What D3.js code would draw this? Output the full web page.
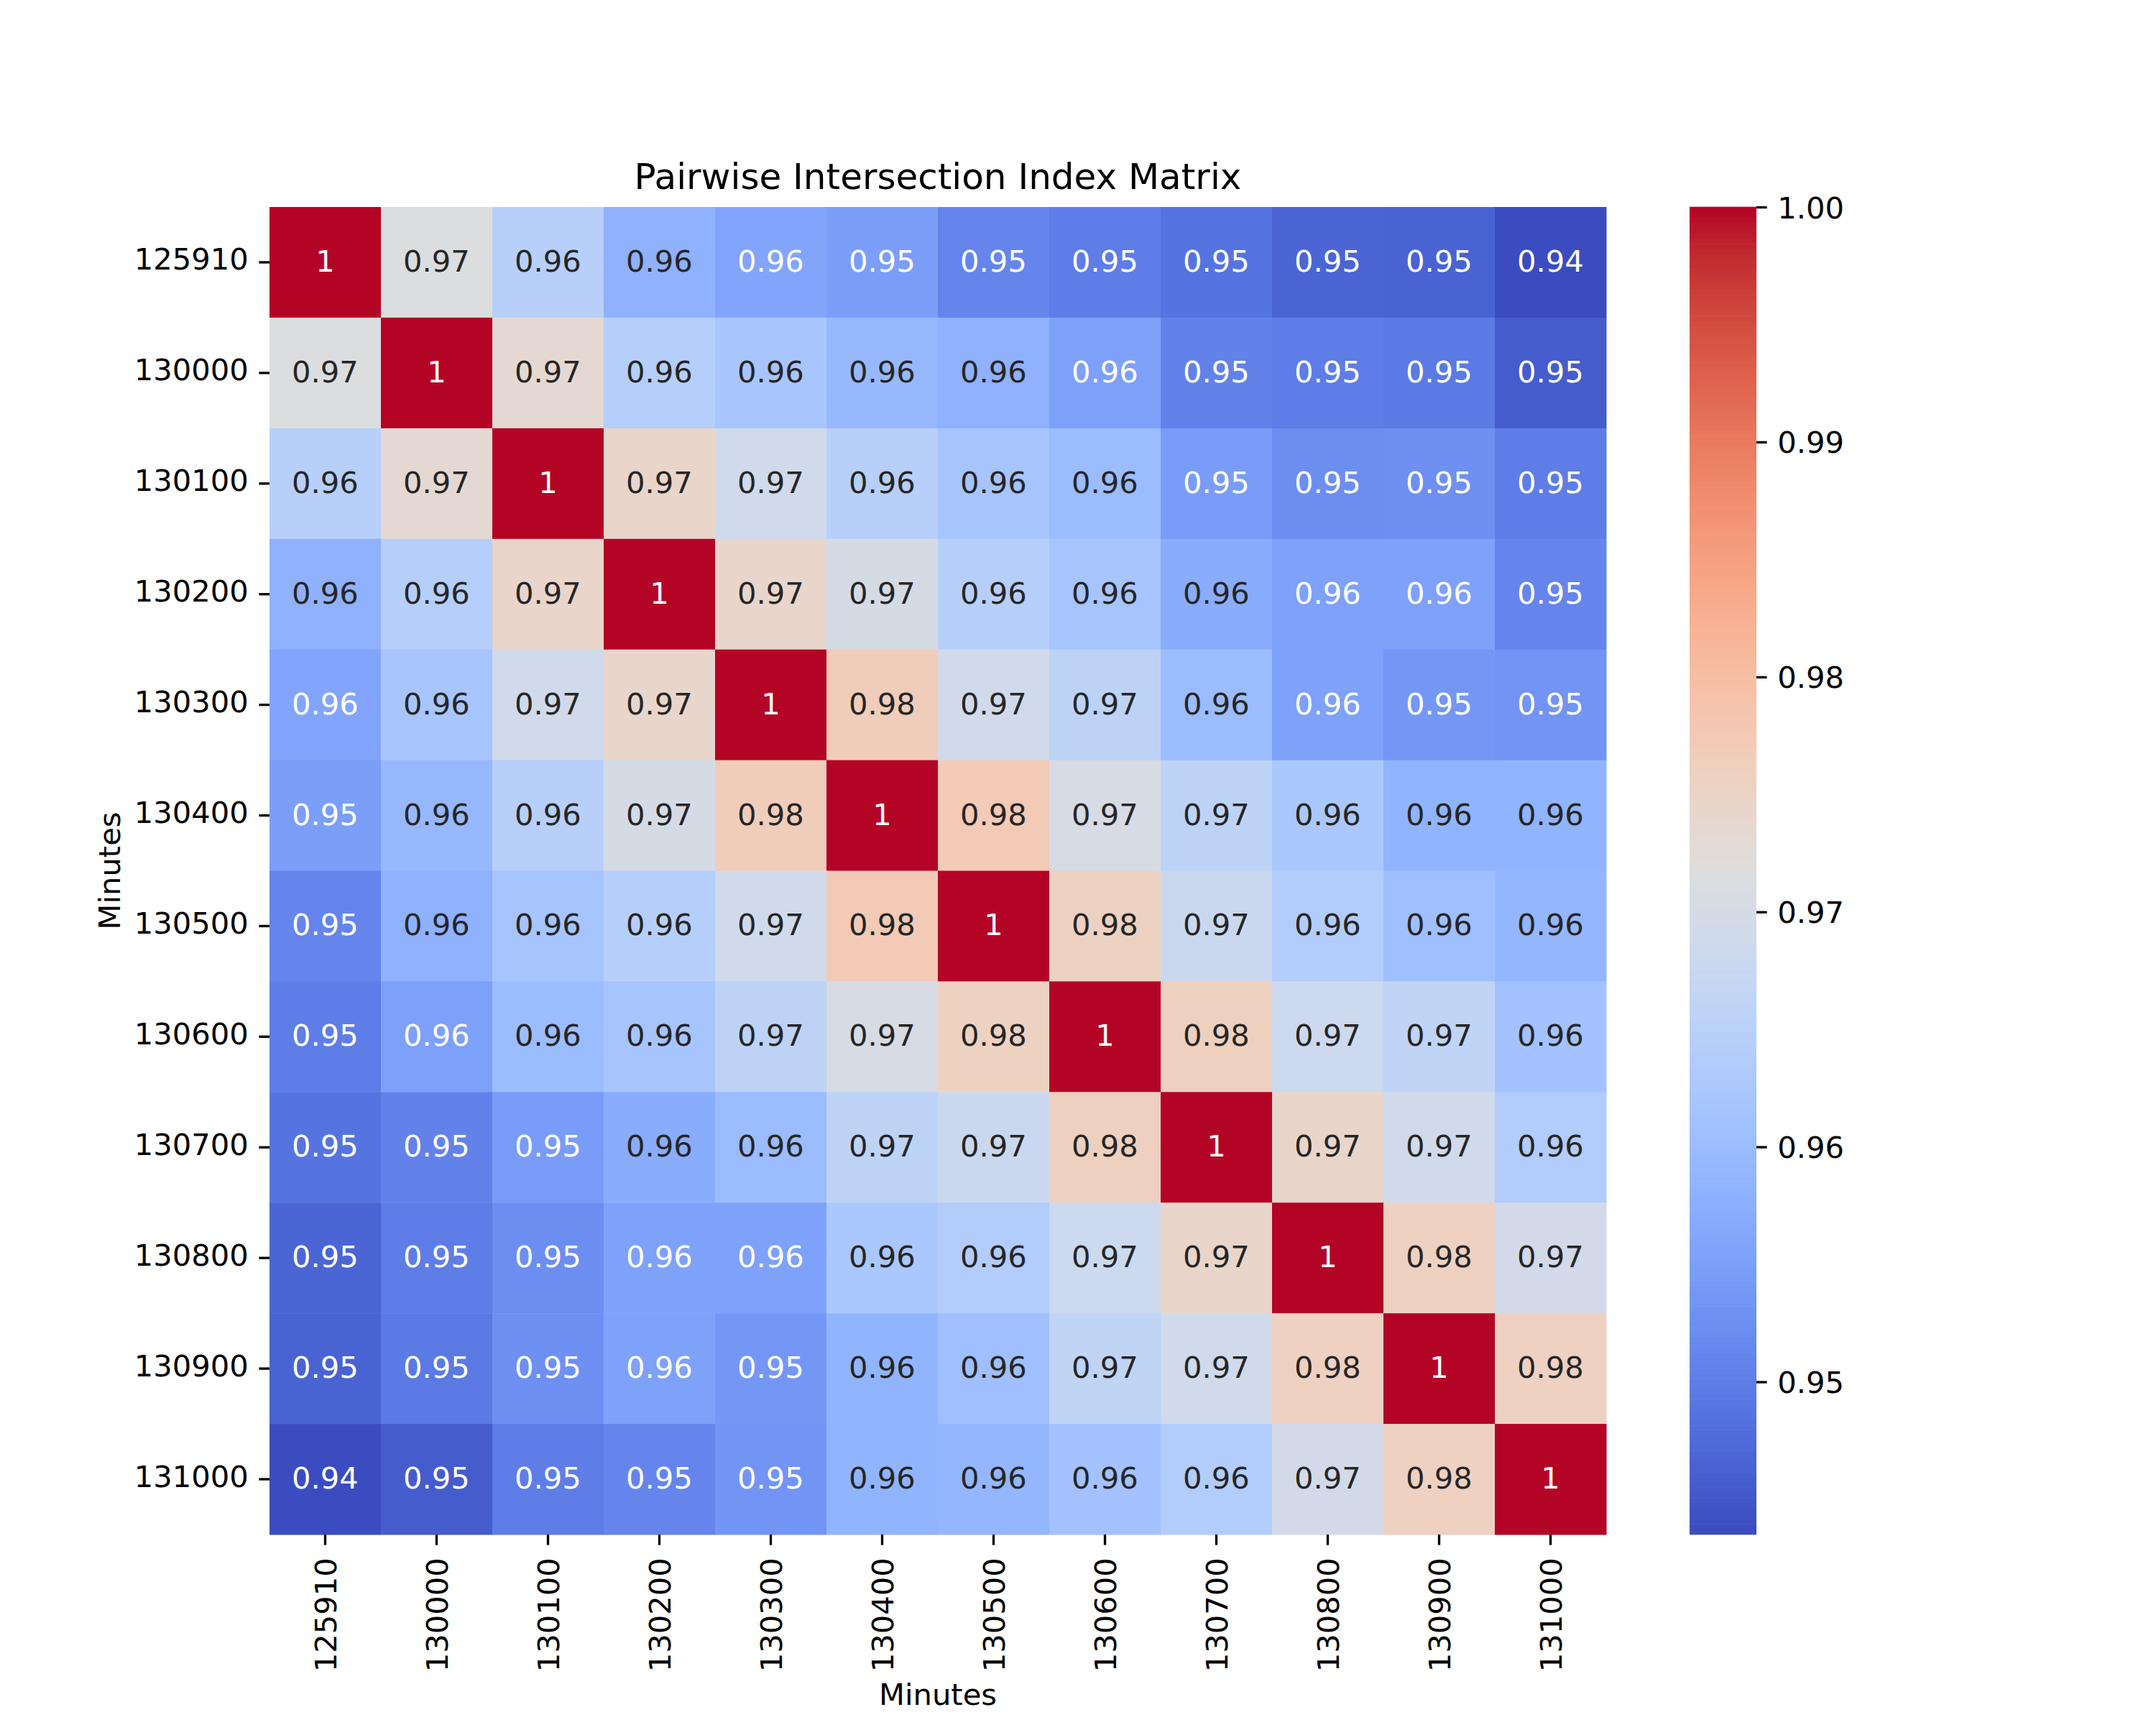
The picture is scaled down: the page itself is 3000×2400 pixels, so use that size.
<!DOCTYPE html>
<html>
<head>
<meta charset="utf-8">
<script src="https://cdn.jsdelivr.net/npm/d3@7"></script>
<style>
  html, body { margin: 0; padding: 0; background: #ffffff; }
  svg { display: block; }
  text { font-family: "DejaVu Sans", sans-serif; }
</style>
</head>
<body>
<script>
// ---------------- DATA ----------------
const rowLabels = ["125910","130000","130100","130200","130300","130400","130500","130600","130700","130800","130900","131000"];
const colLabels = ["125910","130000","130100","130200","130300","130400","130500","130600","130700","130800","130900","131000"];

const row125910 = [1.0000, 0.9715, 0.9645, 0.9580, 0.9560, 0.9548, 0.9511, 0.9500, 0.9486, 0.9466, 0.9464, 0.9435];
const row130000 = [0.9715, 1.0000, 0.9735, 0.9641, 0.9619, 0.9593, 0.9579, 0.9551, 0.9506, 0.9500, 0.9495, 0.9455];
const row130100 = [0.9645, 0.9735, 1.0000, 0.9746, 0.9689, 0.9646, 0.9616, 0.9599, 0.9545, 0.9525, 0.9527, 0.9500];
const row130200 = [0.9580, 0.9641, 0.9746, 1.0000, 0.9743, 0.9700, 0.9644, 0.9617, 0.9571, 0.9554, 0.9553, 0.9511];
const row130300 = [0.9560, 0.9619, 0.9689, 0.9743, 1.0000, 0.9768, 0.9689, 0.9656, 0.9599, 0.9554, 0.9537, 0.9533];
const row130400 = [0.9548, 0.9593, 0.9646, 0.9700, 0.9768, 1.0000, 0.9774, 0.9703, 0.9656, 0.9624, 0.9585, 0.9584];
const row130500 = [0.9511, 0.9579, 0.9616, 0.9644, 0.9689, 0.9774, 1.0000, 0.9757, 0.9678, 0.9638, 0.9607, 0.9588];
const row130600 = [0.9500, 0.9551, 0.9599, 0.9617, 0.9656, 0.9703, 0.9757, 1.0000, 0.9760, 0.9683, 0.9661, 0.9612];
const row130700 = [0.9486, 0.9506, 0.9545, 0.9571, 0.9599, 0.9656, 0.9678, 0.9760, 1.0000, 0.9746, 0.9690, 0.9636];
const row130800 = [0.9466, 0.9500, 0.9525, 0.9554, 0.9554, 0.9624, 0.9638, 0.9683, 0.9746, 1.0000, 0.9758, 0.9695];
const row130900 = [0.9464, 0.9495, 0.9527, 0.9553, 0.9537, 0.9585, 0.9607, 0.9661, 0.9690, 0.9758, 1.0000, 0.9758];
const row131000 = [0.9435, 0.9455, 0.9500, 0.9511, 0.9533, 0.9584, 0.9588, 0.9612, 0.9636, 0.9695, 0.9758, 1.0000];

const matrix = [row125910, row130000, row130100, row130200, row130300, row130400,
                row130500, row130600, row130700, row130800, row130900, row131000];

const cbarTicks = [0.95, 0.96, 0.97, 0.98, 0.99, 1.00];

const titleText = "Pairwise Intersection Index Matrix";
const xLabelText = "Minutes";
const yLabelText = "Minutes";

// coolwarm (Moreland) control colours
const coolwarmStops = [
  [59,76,192],[68,90,204],[77,104,215],[87,117,225],[98,130,234],[108,142,241],
  [119,154,247],[130,165,251],[141,176,254],[152,185,255],[163,194,255],[174,201,253],
  [184,208,249],[194,213,244],[204,217,238],[213,219,230],[221,221,221],[229,216,209],
  [236,211,197],[241,204,184],[245,196,172],[247,187,160],[247,177,148],[247,166,135],
  [244,154,123],[241,141,111],[236,127,99],[229,112,88],[222,96,77],[213,80,66],
  [203,62,56],[192,40,47],[180,4,38]
];

// ---------------- LAYOUT ----------------
const W = 3000, H = 2400;
const L = 375, R = 2235, T = 288, B = 2135;
const cbL = 2351, cbR = 2444;
const fs = 41.67;
const tickLen = 14.6, tickPad = 14.6;

const svg = d3.select("body").append("svg").attr("width", W).attr("height", H);
svg.append("rect").attr("width", W).attr("height", H).attr("fill", "#fff");

const flat = matrix.flat();
const vmin = d3.min(flat), vmax = d3.max(flat);

const interp = d3.interpolateRgbBasis ? null : null;
const stopScale = d3.scaleLinear()
  .domain(coolwarmStops.map((_, i) => i / (coolwarmStops.length - 1)))
  .range(coolwarmStops.map(c => d3.rgb(c[0], c[1], c[2])))
  .interpolate(d3.interpolateRgb)
  .clamp(true);

function cmap(v) {
  let t = (v - vmin) / (vmax - vmin);
  let idx = Math.floor(t * 256);
  idx = Math.max(0, Math.min(255, idx));
  return stopScale(idx / 255);
}

function relLum(c) {
  const col = d3.rgb(c);
  const f = x => { x /= 255; return x <= 0.03928 ? x / 12.92 : Math.pow((x + 0.055) / 1.055, 2.4); };
  return 0.2126 * f(col.r) + 0.7152 * f(col.g) + 0.0722 * f(col.b);
}

const x = d3.scaleBand().domain(colLabels).range([L, R]);
const y = d3.scaleBand().domain(rowLabels).range([T, B]);
const fmt = d3.format(".2~g");

// cells
const cells = [];
matrix.forEach((row, i) => row.forEach((v, j) => cells.push({ r: rowLabels[i], c: colLabels[j], v })));

const g = svg.append("g");
g.selectAll("rect.cell").data(cells).join("rect")
  .attr("class", "cell")
  .attr("x", d => x(d.c))
  .attr("y", d => y(d.r))
  .attr("width", x.bandwidth() + 0.5)
  .attr("height", y.bandwidth() + 0.5)
  .attr("fill", d => cmap(d.v));

g.selectAll("text.ann").data(cells).join("text")
  .attr("class", "ann")
  .attr("x", d => x(d.c) + x.bandwidth() / 2)
  .attr("y", d => y(d.r) + y.bandwidth() / 2 + 13)
  .attr("text-anchor", "middle")
  .attr("font-size", fs)
  .attr("fill", d => relLum(cmap(d.v)) > 0.408 ? "#262626" : "#ffffff")
  .text(d => fmt(d.v));

// y axis
const yAxis = svg.append("g").attr("transform", `translate(${L},0)`)
  .call(d3.axisLeft(y).tickSize(tickLen).tickPadding(tickPad));
yAxis.select(".domain").remove();
yAxis.selectAll(".tick line").attr("stroke", "#000").attr("stroke-width", 3.33);
yAxis.selectAll(".tick text")
  .attr("font-size", fs).attr("font-family", "DejaVu Sans").attr("fill", "#000")
  .attr("dy", null).attr("y", 10.5);

// x axis
const xAxis = svg.append("g").attr("transform", `translate(0,${B})`)
  .call(d3.axisBottom(x).tickSize(tickLen).tickPadding(tickPad));
xAxis.select(".domain").remove();
xAxis.selectAll(".tick line").attr("stroke", "#000").attr("stroke-width", 3.33);
xAxis.selectAll(".tick text")
  .attr("font-size", fs).attr("font-family", "DejaVu Sans").attr("fill", "#000")
  .attr("text-anchor", "end")
  .attr("y", 0).attr("x", 0)
  .attr("dy", "0.36em")
  .attr("transform", `translate(0,${tickLen + tickPad + 3}) rotate(-90)`);

// axis labels and title
svg.append("text")
  .attr("x", (L + R) / 2).attr("y", 2372)
  .attr("text-anchor", "middle").attr("font-size", fs).attr("fill", "#000")
  .text(xLabelText);

svg.append("text")
  .attr("transform", `translate(167,${(T + B) / 2}) rotate(-90)`)
  .attr("text-anchor", "middle").attr("font-size", fs).attr("fill", "#000")
  .text(yLabelText);

svg.append("text")
  .attr("x", (L + R) / 2).attr("y", 263)
  .attr("text-anchor", "middle").attr("font-size", 50).attr("fill", "#000")
  .text(titleText);

// colorbar
const cy = d3.scaleLinear().domain([vmin, vmax]).range([B, T]);
const nSteps = 256;
const steps = d3.range(nSteps).map(k => vmin + (vmax - vmin) * (k + 0.5) / nSteps);
const stepH = (B - T) / nSteps;
svg.append("g").selectAll("rect").data(steps).join("rect")
  .attr("x", cbL)
  .attr("y", d => cy(d) - stepH / 2 - 0.3)
  .attr("width", cbR - cbL)
  .attr("height", stepH + 0.6)
  .attr("fill", d => cmap(d));

const cAxis = svg.append("g").attr("transform", `translate(${cbR},0)`)
  .call(d3.axisRight(cy).tickValues(cbarTicks).tickFormat(d3.format(".2f")).tickSize(tickLen).tickPadding(tickPad));
cAxis.select(".domain").remove();
cAxis.selectAll(".tick line").attr("stroke", "#000").attr("stroke-width", 3.33);
cAxis.selectAll(".tick text")
  .attr("font-size", fs).attr("font-family", "DejaVu Sans").attr("fill", "#000")
  .attr("dy", null).attr("y", 15);
</script>
</body>
</html>
